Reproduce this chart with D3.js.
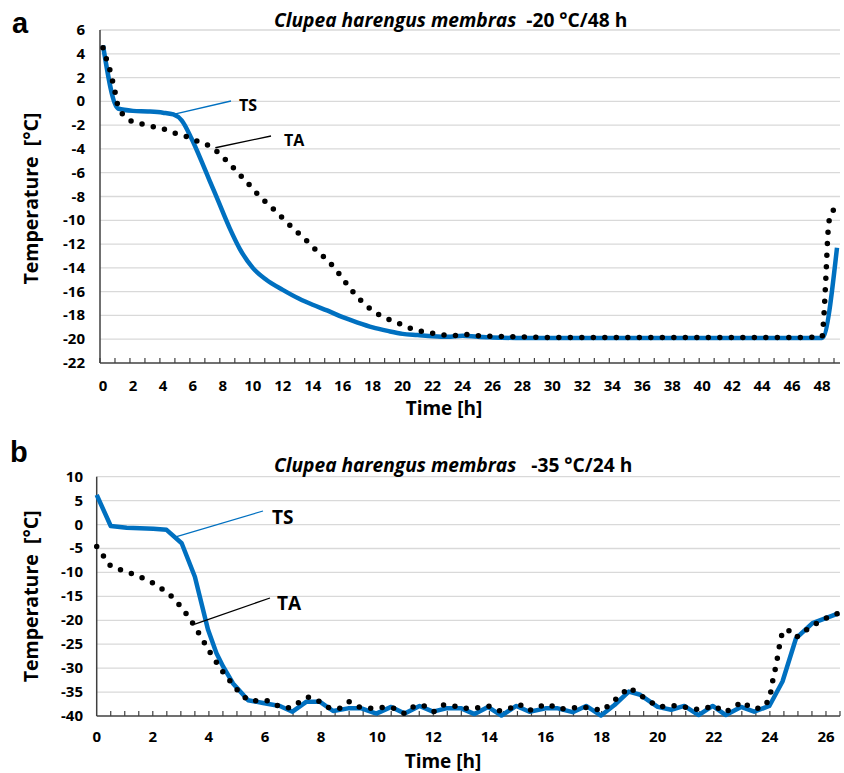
<!DOCTYPE html>
<html>
<head>
<meta charset="utf-8">
<script src="https://cdn.jsdelivr.net/npm/d3@7"></script>
<style>
  body { margin: 0; background: #fff; }
  svg text { font-family: 'Open Sans', 'Noto Sans', sans-serif; font-weight: bold; fill: #000; }
</style>
</head>
<body>
<svg id="canvas" width="844" height="773"></svg>
<script>
// panel a : -20 C / 48 h
let timeA_TS = [0, 1.0, 2, 3, 4, 4.7, 5.25, 5.9, 6.7, 7.13, 7.6, 8.47, 9.13, 10.0, 10.9, 12.0, 13.1, 14, 15, 16, 17, 18, 19, 20, 21, 22, 23, 24, 25, 26, 28, 30, 32, 34, 36, 38, 40, 42, 44, 46, 48, 49]
let tempA_TS = [4.7, -0.6, -0.8, -0.85, -0.95, -1.1, -1.6, -3.1, -5.4, -6.7, -8.1, -10.7, -12.4, -14.0, -15.0, -15.85, -16.6, -17.1, -17.6, -18.15, -18.6, -19.0, -19.3, -19.55, -19.65, -19.75, -19.8, -19.7, -19.8, -19.85, -19.9, -19.9, -19.9, -19.9, -19.9, -19.9, -19.9, -19.9, -19.9, -19.9, -19.9, -12.3]

let timeA_TA = [0, 0.24, 0.47, 0.64, 0.82, 1.0, 1.36, 1.96, 2.69, 3.44, 4.18, 4.93, 5.69, 6.4, 7.13, 7.73, 8.33, 8.87, 9.38, 9.9, 10.42, 11.02, 11.58, 12.13, 12.69, 13.5, 14.3, 15.1, 15.7, 16.3, 17.1, 17.8, 18.5, 19.2, 19.8, 20.24, 20.98, 21.75, 22.5, 23.3, 24.1, 25, 26, 28, 30, 32, 34, 36, 38, 40, 42, 44, 46, 48.0, 48.1, 48.25, 48.4, 48.55, 48.9]
let tempA_TA = [4.5, 3.5, 2.6, 1.7, 0.7, -0.4, -1.14, -1.7, -1.93, -2.15, -2.38, -2.74, -3.0, -3.4, -3.78, -4.36, -5.1, -5.8, -6.5, -7.2, -7.95, -8.65, -9.3, -10.0, -10.67, -11.6, -12.6, -13.5, -14.4, -15.4, -16.6, -17.4, -18.0, -18.4, -18.7, -18.95, -19.27, -19.43, -19.6, -19.7, -19.6, -19.7, -19.75, -19.8, -19.85, -19.85, -19.85, -19.85, -19.85, -19.85, -19.85, -19.85, -19.85, -19.8, -18.5, -15.0, -11.0, -9.6, -9.0]

let yTicksA = [6, 4, 2, 0, -2, -4, -6, -8, -10, -12, -14, -16, -18, -20, -22]
let xLabelsA = [0, 2, 4, 6, 8, 10, 12, 14, 16, 18, 20, 22, 24, 26, 28, 30, 32, 34, 36, 38, 40, 42, 44, 46, 48]

// panel b : -35 C / 24 h
let timeB_TS = [0, 0.5, 1.07, 2.02, 2.49, 3.03, 3.5, 3.97, 4.27, 4.51, 4.86, 5.4, 5.93, 6.53, 6.98, 7.48, 7.95, 8.43, 8.96, 9.44, 9.97, 10.5, 10.98, 11.51, 11.99, 12.46, 13.0, 13.47, 13.95, 14.43, 14.96, 15.43, 16.0, 16.44, 16.97, 17.45, 17.98, 18.46, 18.97, 19.35, 20.0, 20.48, 20.95, 21.46, 21.96, 22.43, 22.97, 23.44, 23.98, 24.45, 24.93, 25.52, 26.47]
let tempB_TS = [6.2, -0.3, -0.65, -0.86, -1.1, -3.9, -10.9, -22.0, -26.9, -29.7, -33.2, -36.7, -37.3, -37.9, -39.1, -37.0, -37.0, -38.95, -38.4, -38.4, -39.5, -38.1, -39.5, -37.9, -39.1, -38.4, -38.4, -39.6, -38.1, -39.9, -37.9, -39.1, -38.4, -38.4, -39.2, -37.9, -39.9, -37.7, -34.9, -35.5, -38.1, -38.7, -37.9, -39.8, -37.9, -39.8, -38.1, -39.1, -37.9, -32.8, -23.8, -20.6, -18.5]

let timeB_TA = [0, 0.26, 0.5, 0.88, 1.27, 1.66, 2.04, 2.39, 2.71, 2.98, 3.24, 3.47, 3.68, 3.9, 4.11, 4.35, 4.58, 4.84, 5.1, 5.41, 5.78, 6.15, 6.53, 6.92, 7.28, 7.57, 7.95, 8.31, 8.66, 9.0, 9.38, 9.79, 10.2, 10.61, 10.98, 11.33, 11.69, 12.02, 12.37, 12.74, 13.12, 13.56, 13.96, 14.34, 14.7, 15.05, 15.41, 15.74, 16.08, 16.47, 16.88, 17.29, 17.68, 18.04, 18.36, 18.7, 18.97, 19.32, 19.68, 20.04, 20.44, 20.84, 21.25, 21.63, 22.02, 22.37, 22.69, 23.0, 23.35, 23.68, 23.98, 24.05, 24.12, 24.22, 24.29, 24.36, 24.45, 24.63, 24.93, 25.25, 25.58, 25.94, 26.4]
let tempB_TA = [-4.6, -6.7, -8.7, -9.5, -10.3, -11.2, -12.3, -13.7, -15.2, -17.0, -19.0, -21.0, -23.1, -25.3, -27.4, -29.5, -31.5, -33.3, -35.2, -36.8, -36.8, -36.8, -38.1, -38.3, -36.9, -36.0, -37.0, -38.4, -38.4, -37.0, -38.2, -38.4, -38.2, -38.4, -39.5, -37.9, -37.9, -39.1, -37.7, -37.9, -38.4, -38.3, -37.9, -38.9, -38.5, -37.5, -38.9, -38.1, -37.5, -38.5, -38.4, -38.1, -38.4, -38.9, -37.2, -35.6, -34.0, -35.4, -36.8, -38.1, -37.8, -37.9, -38.6, -38.5, -37.8, -39.2, -38.4, -37.0, -38.4, -38.4, -36.7, -34.4, -32.0, -29.5, -27.1, -24.7, -22.4, -21.9, -23.6, -22.2, -20.9, -19.7, -18.6]

let yTicksB = [10, 5, 0, -5, -10, -15, -20, -25, -30, -35, -40]
let xLabelsB = [0, 2, 4, 6, 8, 10, 12, 14, 16, 18, 20, 22, 24, 26]

let blue = '#0070c0'
let canvas = d3.select('#canvas')

let drawPanel = (p) => {
    let g = canvas.append('g')
    let x = d3.scaleLinear().domain(p.xDomain).range([p.left, p.right])
    let y = d3.scaleLinear().domain(p.yDomain).range([p.bottom, p.top])

    // gridlines
    g.selectAll('.grid')
        .data(p.yTicks.filter(v => v !== p.yDomain[0]))
        .enter()
        .append('line')
        .attr('x1', p.left).attr('x2', p.right)
        .attr('y1', d => y(d)).attr('y2', d => y(d))
        .attr('stroke', '#d9d9d9').attr('stroke-width', 1.3)

    // y tick labels
    g.selectAll('.ylab')
        .data(p.yTicks)
        .enter()
        .append('text')
        .attr('x', p.yLabelX)
        .attr('y', d => y(d) + 5)
        .attr('text-anchor', 'end')
        .attr('font-size', 15)
        .text(d => d)

    // minor ticks on x axis, pointing up
    g.selectAll('.xtick')
        .data(p.xTicks)
        .enter()
        .append('line')
        .attr('x1', d => x(d)).attr('x2', d => x(d))
        .attr('y1', p.bottom).attr('y2', p.bottom - 5)
        .attr('stroke', '#404040').attr('stroke-width', 1.2)

    // x labels
    g.selectAll('.xlab')
        .data(p.xLabels)
        .enter()
        .append('text')
        .attr('x', d => x(d))
        .attr('y', p.bottom + p.xLabelDy)
        .attr('text-anchor', 'middle')
        .attr('font-size', 15)
        .text(d => d)

    // axis lines
    g.append('line')
        .attr('x1', p.left).attr('x2', p.left)
        .attr('y1', p.top).attr('y2', p.bottom)
        .attr('stroke', '#404040').attr('stroke-width', 1.5)
    g.append('line')
        .attr('x1', p.left).attr('x2', p.right)
        .attr('y1', p.bottom).attr('y2', p.bottom)
        .attr('stroke', '#404040').attr('stroke-width', 1.5)

    let line = d3.line()
        .x(d => x(d[0]))
        .y(d => y(d[1]))
        .curve(p.curve)

    g.append('path')
        .datum(d3.zip(p.tsTime, p.tsTemp))
        .attr('d', line)
        .attr('fill', 'none')
        .attr('stroke', blue)
        .attr('stroke-width', 4.5)
        .attr('stroke-linejoin', 'round')

    g.append('path')
        .datum(d3.zip(p.taTime, p.taTemp))
        .attr('d', line)
        .attr('fill', 'none')
        .attr('stroke', '#000')
        .attr('stroke-width', 5.5)
        .attr('stroke-linecap', 'round')
        .attr('stroke-dasharray', '0 11.5')

    // leader lines + labels
    p.notes.forEach(n => {
        g.append('line')
            .attr('x1', x(n.at[0])).attr('y1', y(n.at[1]))
            .attr('x2', n.to[0]).attr('y2', n.to[1])
            .attr('stroke', n.color).attr('stroke-width', 1.3)
        g.append('text')
            .attr('x', n.textAt[0]).attr('y', n.textAt[1])
            .attr('font-size', n.size)
            .text(n.label)
    })

    // title
    let t = g.append('text')
        .attr('x', p.titleX).attr('y', p.titleY)
        .attr('font-size', 19.2)
    t.append('tspan').attr('font-style', 'italic').text('Clupea harengus membras')
    t.append('tspan').attr('xml:space', 'preserve').text(p.titleTail)

    // panel letter
    g.append('text')
        .attr('x', p.letterX).attr('y', p.letterY)
        .attr('font-size', 29)
        .style('font-family', 'Liberation Sans, Arial, sans-serif')
        .text(p.letter)

    // axis titles
    g.append('text')
        .attr('transform', 'translate(' + p.yTitleX + ',' + ((p.top + p.bottom) / 2 + p.yTitleShift) + ') rotate(-90)')
        .attr('text-anchor', 'middle')
        .attr('font-size', 19.5)
        .attr('xml:space', 'preserve')
        .text('Temperature  [°C]')
    g.append('text')
        .attr('x', p.xTitleX).attr('y', p.xTitleY)
        .attr('text-anchor', 'middle')
        .attr('font-size', 19)
        .text('Time [h]')
}

drawPanel({
    left: 100, right: 840, top: 30, bottom: 363,
    xDomain: [-0.2, 49.2], yDomain: [-22, 6],
    yTicks: yTicksA, xLabels: xLabelsA, xLabelDy: 28,
    xTicks: d3.range(0, 50).map(k => k - 0.2),
    yLabelX: 85,
    tsTime: timeA_TS, tsTemp: tempA_TS, taTime: timeA_TA, taTemp: tempA_TA,
    curve: d3.curveMonotoneX,
    notes: [
        {at: [4.7, -1.1], to: [231, 101], textAt: [239, 111], label: 'TS', color: blue, size: 16},
        {at: [7.5, -3.9], to: [271, 136], textAt: [284, 146], label: 'TA', color: '#000', size: 16}
    ],
    titleX: 274, titleY: 27, titleTail: '  -20 °C/48 h',
    letter: 'a', letterX: 12, letterY: 33,
    yTitleX: 38, yTitleShift: 2,
    xTitleX: 444, xTitleY: 415
})

drawPanel({
    left: 96.7, right: 840, top: 476.7, bottom: 716,
    xDomain: [0, 26.5], yDomain: [-40, 10],
    yTicks: yTicksB, xLabels: xLabelsB, xLabelDy: 26,
    xTicks: d3.range(0.5, 26.6, 0.5),
    yLabelX: 83,
    tsTime: timeB_TS, tsTemp: tempB_TS, taTime: timeB_TA, taTemp: tempB_TA,
    curve: d3.curveLinear,
    notes: [
        {at: [2.85, -2.5], to: [263, 511], textAt: [272, 524], label: 'TS', color: blue, size: 19},
        {at: [3.5, -20.8], to: [270, 598], textAt: [277, 610], label: 'TA', color: '#000', size: 19}
    ],
    titleX: 274, titleY: 472, titleTail: '   -35 °C/24 h',
    letter: 'b', letterX: 10, letterY: 462,
    yTitleX: 38, yTitleShift: 0,
    xTitleX: 443, xTitleY: 768
})
</script>
</body>
</html>
